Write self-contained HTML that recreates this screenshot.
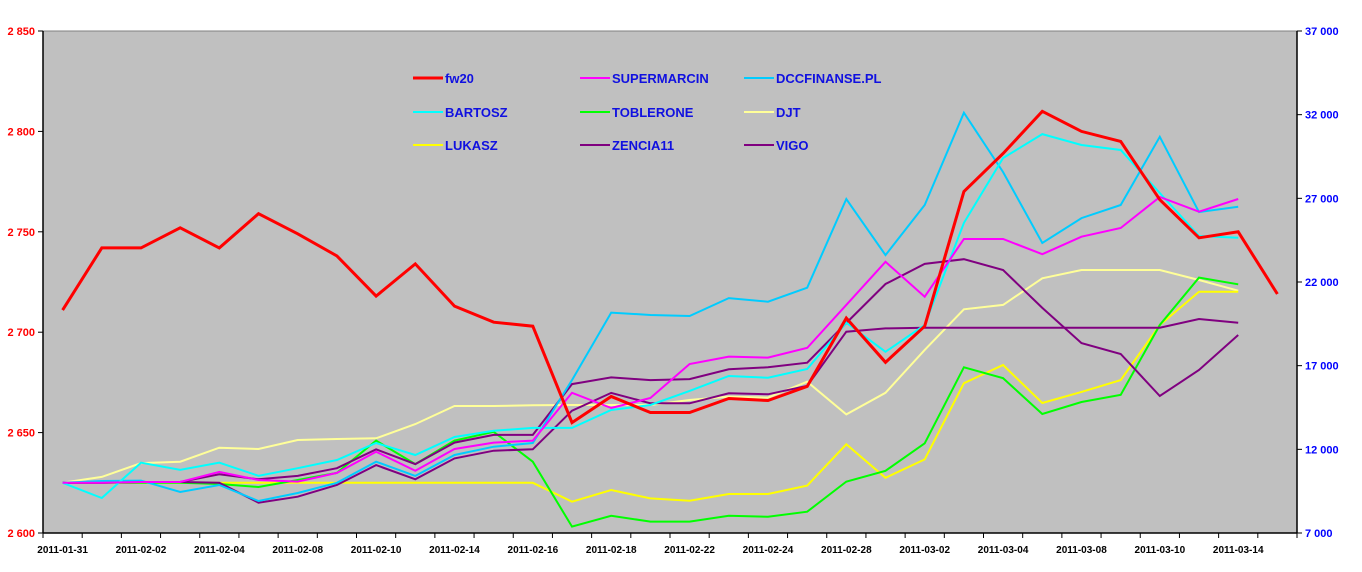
<!DOCTYPE html>
<html><head><meta charset="utf-8"><style>
body{margin:0;background:#fff;}
svg{display:block;font-family:"Liberation Sans",Arial,sans-serif;}
</style></head><body>
<svg id="chart" width="1362" height="572" xmlns="http://www.w3.org/2000/svg"></svg>
<script>
const categories=["2011-01-31","2011-02-01","2011-02-02","2011-02-03","2011-02-04","2011-02-07","2011-02-08","2011-02-09","2011-02-10","2011-02-11","2011-02-14","2011-02-15","2011-02-16","2011-02-17","2011-02-18","2011-02-21","2011-02-22","2011-02-23","2011-02-24","2011-02-25","2011-02-28","2011-03-01","2011-03-02","2011-03-03","2011-03-04","2011-03-07","2011-03-08","2011-03-09","2011-03-10","2011-03-11","2011-03-14","2011-03-15"];
const leftTicks=[2600,2650,2700,2750,2800,2850];
const rightTicks=[7000,12000,17000,22000,27000,32000,37000];
const fw20=[2711,2742,2742,2752,2742,2759,2749,2738,2718,2734,2713,2705,2703,2655,2668,2660,2660,2667,2666,2673,2707,2685,2703,2770,2789,2810,2800,2795,2766,2747,2750,2719];
const supermarcin=[10000,10000,10050,10050,10650,10170,10070,10590,11860,10720,12020,12400,12520,15380,14470,15070,17100,17540,17480,18060,20630,23210,21120,24570,24570,23660,24710,25230,27080,26200,26960];
const dccfinanse=[10000,10110,10130,9450,9870,8910,9390,10000,11260,10410,11660,12160,12380,16140,20170,20030,19970,21040,20820,21660,26960,23610,26600,32120,28570,24330,25820,26600,30680,26180,26500];
const bartosz=[10000,9090,11200,10770,11200,10420,10870,11360,12380,11660,12740,13110,13280,13280,14350,14650,15490,16380,16280,16800,19570,17830,19430,25530,29410,30840,30190,29890,27320,24750,24650];
const toblerone=[10000,10000,10000,10000,9930,9750,10170,10590,12520,11120,12520,13050,11260,7380,8030,7680,7680,8030,7970,8270,10070,10720,12360,16900,16250,14110,14830,15250,19430,22260,21860];
const djt=[10000,10350,11180,11260,12100,12020,12560,12620,12660,13510,14590,14590,14630,14650,14650,14650,14950,15150,15090,16040,14090,15380,17940,20370,20630,22220,22720,22720,22720,22120,21480];
const lukasz=[10000,10000,10000,10000,10000,10000,10000,10000,10000,10000,10000,10000,10000,8870,9570,9070,8930,9330,9330,9830,12300,10300,11400,15950,17040,14770,15430,16140,19430,21420,21420];
const zencia11=[10000,10000,10050,10050,10510,10210,10410,10870,12000,11120,12400,12860,12860,15900,16300,16140,16200,16780,16900,17180,19550,21880,23080,23360,22720,20450,18350,17700,15190,16740,18830];
const vigo=[10000,10000,10050,10050,10000,8810,9170,9870,11060,10210,11460,11920,12000,14310,15370,14750,14750,15350,15290,15790,19030,19230,19270,19270,19270,19270,19270,19270,19270,19790,19570];

const NS="http://www.w3.org/2000/svg";
const svg=document.getElementById('chart');
const L=43,R=1297,T=31,B=533;
const cw=(R-L)/categories.length;
const x=i=>L+(i+0.5)*cw;
const yL=v=>B-(v-2600)/(2850-2600)*(B-T);
const yR=v=>B-(v-7000)/(37000-7000)*(B-T);
function el(tag,attrs,parent){const e=document.createElementNS(NS,tag);for(const k in attrs)e.setAttribute(k,attrs[k]);(parent||svg).appendChild(e);return e;}

const plot=el('rect',{x:L,y:T,width:R-L,height:B-T,fill:'#c0c0c0',stroke:'#808080','stroke-width':1});



// axes
const axL=el('line',{x1:L,y1:T,x2:L,y2:B,stroke:'#000','stroke-width':1.5});


const axR=el('line',{x1:R,y1:T,x2:R,y2:B,stroke:'#000','stroke-width':1.5});


const axX=el('line',{x1:L,y1:B,x2:R,y2:B,stroke:'#000','stroke-width':1.5});



leftTicks.forEach(v=>{
  el('line',{x1:L-5,y1:yL(v),x2:L,y2:yL(v),stroke:'#000'});
  const t=el('text',{x:L-8,y:yL(v)+4,'text-anchor':'end','font-size':11,'font-weight':'bold',fill:'#ff0000'});
  t.textContent=(v+'').replace(/^(\d)(\d{3})$/,'$1 $2');
  
  
});
rightTicks.forEach(v=>{
  el('line',{x1:R,y1:yR(v),x2:R+5,y2:yR(v),stroke:'#000'});
  const t=el('text',{x:R+8,y:yR(v)+4,'font-size':11,'font-weight':'bold',fill:'#0000ff'});
  t.textContent=(v+'').replace(/(\d+)(\d{3})$/,'$1 $2');
  
  
});
for(let i=0;i<=categories.length;i++){
  el('line',{x1:L+i*cw,y1:B,x2:L+i*cw,y2:B+5,stroke:'#000'});
}
categories.forEach((c,i)=>{
  if(i%2!==0)return;
  const t=el('text',{x:x(i),y:B+20,'text-anchor':'middle','font-size':10,'font-weight':'bold',fill:'#000'});
  t.textContent=c;
  
  
});

function series(data,axis,color,w,name){
  const pts=data.map((v,i)=>x(i).toFixed(1)+','+axis(v).toFixed(1)).join(' ');
  const p=el('polyline',{points:pts,fill:'none',stroke:color,'stroke-width':w,'stroke-linejoin':'miter'});
  
  
}
series(djt,yR,'#ffff99',2,'series-djt');
series(lukasz,yR,'#ffff00',2,'series-lukasz');
series(toblerone,yR,'#00ff00',2,'series-toblerone');
series(vigo,yR,'#800080',2,'series-vigo');
series(zencia11,yR,'#800080',2,'series-zencia11');
series(dccfinanse,yR,'#00ccff',2,'series-dccfinanse');
series(bartosz,yR,'#00ffff',2,'series-bartosz');
series(supermarcin,yR,'#ff00ff',2,'series-supermarcin');
series(fw20,yL,'#ff0000',3,'series-fw20');

const legend=[["fw20","#ff0000",413,78,3],["SUPERMARCIN","#ff00ff",580,78,2],["DCCFINANSE.PL","#00ccff",744,78,2],
["BARTOSZ","#00ffff",413,112,2],["TOBLERONE","#00ff00",580,112,2],["DJT","#ffff99",744,112,2],
["LUKASZ","#ffff00",413,145,2],["ZENCIA11","#800080",580,145,2],["VIGO","#800080",744,145,2]];
const lg=el('g',{});


legend.forEach(([n,c,lx,ly,w])=>{
  const g=el('g',{},lg);
  
  
  el('line',{x1:lx,y1:ly,x2:lx+30,y2:ly,stroke:c,'stroke-width':w},g);
  const t=el('text',{x:lx+32,y:ly+5,'font-size':13,'font-weight':'bold',fill:'#1010e0'},g);
  t.textContent=n;
});
</script>
</body></html>
